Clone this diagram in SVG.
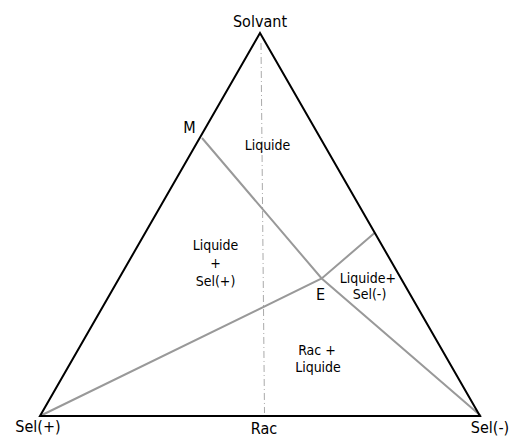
<svg xmlns="http://www.w3.org/2000/svg" width="512" height="446" viewBox="0 0 512 446">
<style>
text{font-family:"DejaVu Sans Condensed","DejaVu Sans",sans-serif;fill:#000;text-anchor:middle}
.big{font-size:16px}
.sm{font-size:14px}
.tri{fill:none;stroke:#000;stroke-width:2;stroke-linejoin:miter}
.g{fill:none;stroke:#999;stroke-width:2}
.axis{fill:none;stroke:#aaa;stroke-width:1;stroke-dasharray:7 3 1 3}
</style>
<rect width="512" height="446" fill="#fff"/>
<g id="connectors">
<line class="axis" x1="261" y1="43" x2="264.5" y2="413"/>
<polyline class="g" points="202,138 321.7,278.5 481,416"/>
<polyline class="g" points="40,416 321.7,278.5 374.5,233"/>
</g>
<g id="triangle">
<polygon class="tri" points="260,33 40,416 480,416"/>
</g>
<g id="solvant"><text class="big" x="260" y="27">Solvant</text></g>
<g id="selplus"><text class="big" x="38" y="432">Sel(+)</text></g>
<g id="rac"><text class="big" x="264" y="434">Rac</text></g>
<g id="selminus"><text class="big" x="490" y="433">Sel(-)</text></g>
<g id="M"><text class="big" x="189.5" y="133">M</text></g>
<g id="E"><text class="big" x="320.5" y="300">E</text></g>
<g id="liquide"><text class="sm" x="267.5" y="150">Liquide</text></g>
<g id="liquide-selplus">
<text class="sm" x="215.5" y="250">Liquide</text>
<text class="sm" x="215.5" y="268">+</text>
<text class="sm" x="215.5" y="286">Sel(+)</text>
</g>
<g id="liquide-selminus">
<text class="sm" x="368" y="283">Liquide+</text>
<text class="sm" x="369.5" y="299">Sel(-)</text>
</g>
<g id="rac-liquide">
<text class="sm" x="317" y="355">Rac +</text>
<text class="sm" x="318" y="372">Liquide</text>
</g>
</svg>
